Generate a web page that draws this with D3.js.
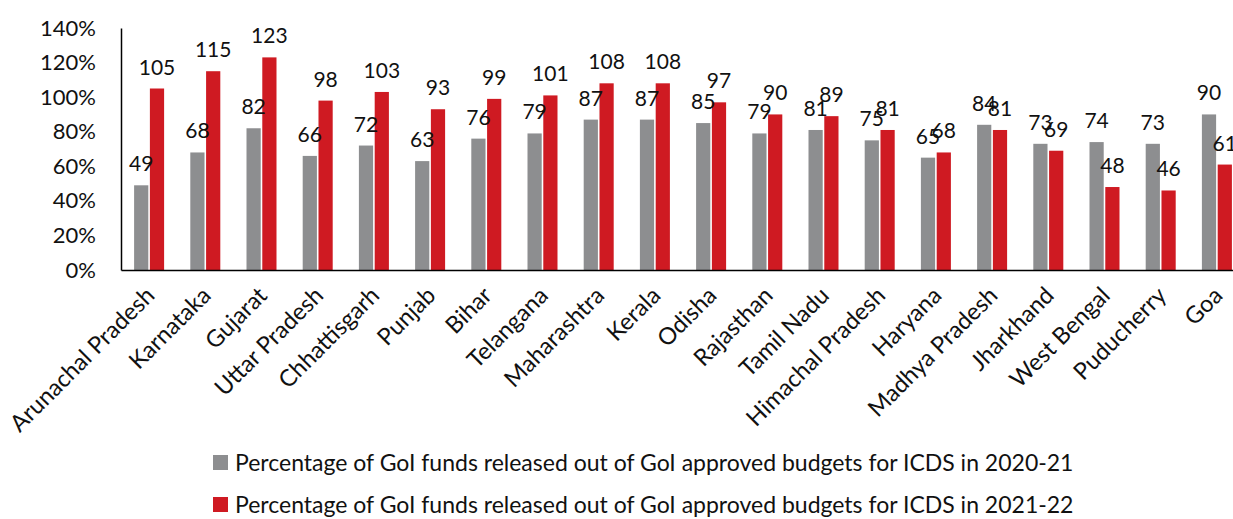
<!DOCTYPE html>
<html lang="en">
  <head>
    <meta charset="utf-8">
    <title>ICDS funds released</title>
    <script src="https://d3js.org/d3.v7.min.js"></script>
    <style>
      body { margin: 0; background: #fff; }
      svg { display: block; font-family: Lato, "Open Sans", sans-serif; }
    </style>
  </head>
  <body>
    <div id="main"></div>
    <script>
      var states = ["Arunachal Pradesh", "Karnataka", "Gujarat", "Uttar Pradesh", "Chhattisgarh", "Punjab", "Bihar",
        "Telangana", "Maharashtra", "Kerala", "Odisha", "Rajasthan", "Tamil Nadu", "Himachal Pradesh", "Haryana",
        "Madhya Pradesh", "Jharkhand", "West Bengal", "Puducherry", "Goa"];
      var released2021 = [49, 68, 82, 66, 72, 63, 76, 79, 87, 87, 85, 79, 81, 75, 65, 84, 73, 74, 73, 90];
      var released2122 = [105, 115, 123, 98, 103, 93, 99, 101, 108, 108, 97, 90, 89, 81, 68, 81, 69, 48, 46, 61];
      var seriesNames = ["Percentage of GoI funds released out of GoI approved budgets for ICDS in 2020-21",
        "Percentage of GoI funds released out of GoI approved budgets for ICDS in 2021-22"];
      var yTicks = [0, 20, 40, 60, 80, 100, 120, 140];

      var colors = ["#8d8e90", "#cf1a22"];
      var width = 1233, height = 519;
      var marginLeft = 121, plotTop = 28, plotBottom = 270;

      var svg = d3.select("#main").append("svg")
        .attr("width", width)
        .attr("height", height);

      var x = d3.scaleBand().domain(states).range([marginLeft, marginLeft + 20 * 56.2]);
      var xSub = d3.scaleBand().domain([0, 1]).range([x.bandwidth() / 2 - 15, x.bandwidth() / 2 + 15]).paddingInner(0.1);
      var y = d3.scaleLinear().domain([0, 140]).range([plotBottom, plotTop]);

      // y axis (labels only)
      var yAxis = svg.append("g")
        .attr("transform", "translate(" + marginLeft + ",0)")
        .call(d3.axisLeft(y).tickValues(yTicks).tickSize(0).tickPadding(25).tickFormat(function(d) { return d + "%"; }));
      yAxis.select(".domain").attr("stroke", "#000").attr("stroke-width", 1.5);
      yAxis.selectAll("text").attr("font-size", 22).attr("fill", "#111").attr("font-family", "Lato, sans-serif");

      var rows = states.map(function(s, i) { return { state: s, vals: [released2021[i], released2122[i]] }; });

      var groups = svg.selectAll(".grp").data(rows).enter().append("g")
        .attr("class", "grp")
        .attr("transform", function(d) { return "translate(" + x(d.state) + ",0)"; });

      groups.selectAll("rect").data(function(d) { return d.vals; }).enter().append("rect")
        .attr("x", function(d, i) { return xSub(i); })
        .attr("y", function(d) { return y(d); })
        .attr("width", xSub.bandwidth())
        .attr("height", function(d) { return y(0) - y(d); })
        .attr("fill", function(d, i) { return colors[i]; });

      groups.selectAll("text.val").data(function(d) { return d.vals; }).enter().append("text")
        .attr("class", "val")
        .attr("x", function(d, i) { return xSub(i) + xSub.bandwidth() / 2; })
        .attr("y", function(d) { return y(d) - 14; })
        .attr("text-anchor", "middle")
        .attr("font-size", 21)
        .attr("fill", "#111")
        .text(function(d) { return d; });

      // x axis
      var xAxis = svg.append("g")
        .attr("transform", "translate(0," + plotBottom + ")")
        .call(d3.axisBottom(x).tickSize(0).tickPadding(0));
      xAxis.select(".domain").attr("stroke", "#000").attr("stroke-width", 1.5);
      xAxis.selectAll("text")
        .attr("font-size", 23.5)
        .attr("fill", "#111")
        .attr("font-family", "Lato, sans-serif")
        .attr("text-anchor", "end")
        .attr("y", 0)
        .attr("dy", 0)
        .attr("transform", "translate(7,27) rotate(-45)");

      // legend
      var legend = svg.selectAll(".legend").data(seriesNames).enter().append("g")
        .attr("class", "legend")
        .attr("transform", function(d, i) { return "translate(213," + (455 + i * 42) + ")"; });
      legend.append("rect")
        .attr("width", 15)
        .attr("height", 15)
        .attr("fill", function(d, i) { return colors[i]; });
      legend.append("text")
        .attr("x", 22)
        .attr("y", 16)
        .attr("font-size", 23)
        .attr("fill", "#111")
        .text(function(d) { return d; });
    </script>
  </body>
</html>
